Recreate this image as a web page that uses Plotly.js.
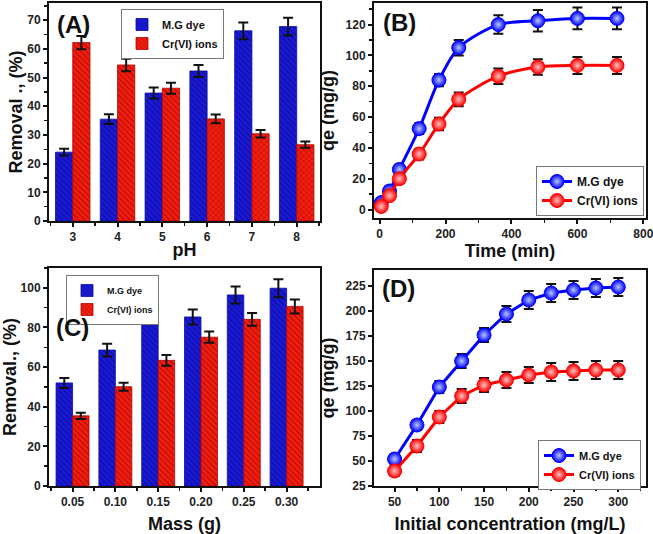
<!DOCTYPE html>
<html>
<head>
<meta charset="utf-8">
<script src="https://cdn.plot.ly/plotly-3.0.1.min.js"></script>
<style>html,body{margin:0;padding:0;background:#fff}#chart{width:653px;height:534px}</style>
</head>
<body>
<div id="chart"></div>
<script>
// ---------- DATA ----------
const seriesNames = ["M.G dye", "Cr(VI) ions"];

// (A) effect of pH
const pH = [3, 4, 5, 6, 7, 8];
const pH_MG = [24.0, 35.5, 44.6, 52.3, 66.3, 67.8];
const pH_MG_err = [1.2, 1.7, 1.9, 2.1, 2.9, 3.1];
const pH_Cr = [62.2, 54.4, 46.3, 35.6, 30.4, 26.6];
const pH_Cr_err = [2.3, 2.2, 1.9, 1.5, 1.3, 1.1];

// (B) effect of contact time
const timeMin = [5, 30, 60, 120, 180, 240, 360, 480, 600, 720];
const time_MG = [4.5, 12, 26, 52.5, 84, 105, 120, 122.5, 124, 124];
const time_MG_err = [2, 3, 3, 3.5, 4, 5, 6, 7, 7, 7];
const time_Cr = [2, 9, 20, 36, 55.5, 71.5, 86.5, 92.5, 93.5, 93.5];
const time_Cr_err = [2, 3, 3, 3.5, 4, 4.5, 5, 5, 5.5, 5.5];

// (C) effect of adsorbent mass
const massLabels = ["0.05", "0.10", "0.15", "0.20", "0.25", "0.30"];
const mass_MG = [52.0, 68.6, 90.2, 85.3, 96.4, 99.8];
const mass_MG_err = [2.5, 3.2, 4.0, 3.8, 4.3, 4.5];
const mass_Cr = [35.4, 50.1, 63.4, 75.1, 84.1, 90.6];
const mass_Cr_err = [1.6, 2.0, 2.7, 2.8, 3.2, 3.5];

// (D) effect of initial concentration
const conc = [50, 75, 100, 125, 150, 175, 200, 225, 250, 275, 300];
const conc_MG = [52, 86, 124, 150, 176, 197, 211, 218, 221, 223, 224];
const conc_MG_err = [5, 5, 6, 7, 7, 8, 9, 9, 9, 9, 9];
const conc_Cr = [40, 65, 94, 115, 126, 131, 136, 139, 140, 141, 141];
const conc_Cr_err = [5, 6, 6, 7, 7, 8, 8, 9, 9, 9, 9];

// ---------- STYLE ----------
const W = 653, H = 534;
const FONT = "Liberation Sans, Arial, sans-serif";
const BLUE = "#1a1ad2", BLUE_FG = "#0a0aa6";
const RED = "#f0200f", RED_FG = "#b40404";
const px = v => v / W;          // pixel -> paper x
const py = v => 1 - v / H;      // pixel -> paper y

const errStyle = arr => ({type: "data", array: arr, visible: true, color: "#111", thickness: 2, width: 5});

function barTrace(x, y, err, name, color, fg, shapes, xa, ya, legend) {
  return {
    type: "bar", x: x, y: y, name: name, xaxis: xa, yaxis: ya, legend: legend,
    marker: {color: color, line: {color: fg, width: 0.8},
             pattern: {shape: shapes, fillmode: "replace", bgcolor: color, fgcolor: fg, size: 4, solidity: 0.25}},
    error_y: errStyle(err)
  };
}
function lineTrace(x, y, err, name, color, center, xa, ya, legend, shape) {
  return {
    type: "scatter", mode: "lines+markers", x: x, y: y, name: name, xaxis: xa, yaxis: ya, legend: legend,
    line: {color: color, width: 3, shape: shape, smoothing: 0.8},
    marker: {size: 14, color: color, gradient: {type: "radial", color: center}, line: {color: color, width: 1}},
    error_y: errStyle(err)
  };
}

const massIdx = massLabels.map((_, i) => i);

const traces = [
  barTrace(pH, pH_MG, pH_MG_err, seriesNames[0], BLUE, BLUE_FG, "\\", "x", "y", "legend"),
  barTrace(pH, pH_Cr, pH_Cr_err, seriesNames[1], RED, RED_FG, ["\\", "\\", "\\", "x", "x", "x"], "x", "y", "legend"),
  lineTrace(timeMin, time_MG, time_MG_err, seriesNames[0], "#0000ff", "#b8c8ff", "x2", "y2", "legend2", "spline"),
  lineTrace(timeMin, time_Cr, time_Cr_err, seriesNames[1], "#ff0000", "#ffc0c0", "x2", "y2", "legend2", "spline"),
  barTrace(massIdx, mass_MG, mass_MG_err, seriesNames[0], BLUE, BLUE_FG, "\\", "x3", "y3", "legend3"),
  barTrace(massIdx, mass_Cr, mass_Cr_err, seriesNames[1], RED, RED_FG, "\\", "x3", "y3", "legend3"),
  lineTrace(conc, conc_MG, conc_MG_err, seriesNames[0], "#0000ff", "#b8c8ff", "x4", "y4", "legend4", "linear"),
  lineTrace(conc, conc_Cr, conc_Cr_err, seriesNames[1], "#ff0000", "#ffc0c0", "x4", "y4", "legend4", "linear")
];

const tickFont = {family: FONT, size: 12, color: "#222", weight: "bold"};
const titleFont = {family: FONT, size: 18, color: "#111", weight: "bold"};
const minorStyle = d => ({dtick: d, ticklen: 3, tickwidth: 1.5, tickcolor: "#111", ticks: "outside"});

function axis(domain, range, anchor, extra) {
  return Object.assign({
    domain: domain, range: range, anchor: anchor,
    showline: true, linecolor: "#111", linewidth: 2, mirror: true,
    ticks: "outside", ticklen: 4, tickwidth: 2, tickcolor: "#111",
    showgrid: false, zeroline: false, tickfont: tickFont, fixedrange: true,
    ticklabeloverflow: "allow"
  }, extra);
}

function legendAt(x, y, size) {
  return {x: px(x), y: py(y), xanchor: "left", yanchor: "top", bgcolor: "#fff",
    bordercolor: "#777", borderwidth: 1, font: {family: FONT, size: size, color: "#111", weight: "bold"},
    tracegroupgap: 0, itemwidth: 30};
}

const layout = {
  width: W, height: H,
  margin: {l: 0, r: 0, t: 0, b: 0},
  paper_bgcolor: "#fff", plot_bgcolor: "#fff",
  barmode: "group", bargap: 0.23, bargroupgap: 0,
  showlegend: true,
  // (A)
  xaxis: axis([px(49), px(320)], [2.47, 8.52], "y", {dtick: 1, tick0: 3, minor: minorStyle(0.5),
    title: {text: "pH", font: titleFont, standoff: 0}}),
  yaxis: axis([py(221), py(3)], [0, 76], "x", {dtick: 10, minor: minorStyle(5),
    title: {text: "Removal ., (%)", font: titleFont, standoff: 0}}),
  // (B)
  xaxis2: axis([px(374), px(646)], [-17, 808], "y2", {dtick: 200, tick0: 0, minor: minorStyle(100),
    title: {text: "Time (min)", font: titleFont, standoff: 3}}),
  yaxis2: axis([py(218), py(3)], [-5.5, 134], "x2", {dtick: 20, tick0: 0, minor: minorStyle(10),
    title: {text: "qe (mg/g)", font: titleFont, standoff: 6}}),
  // (C)
  xaxis3: axis([px(49), px(320)], [-0.55, 5.78], "y3", {tickvals: massIdx, ticktext: massLabels,
    minor: Object.assign(minorStyle(0.5), {tick0: 0.5}),
    title: {text: "Mass (g)", font: titleFont, standoff: 12}}),
  yaxis3: axis([py(486), py(268)], [0, 110], "x3", {dtick: 20, minor: minorStyle(10),
    title: {text: "Removal., (%)", font: titleFont, standoff: 8}}),
  // (D)
  xaxis4: axis([px(374), px(646)], [27, 331], "y4", {dtick: 50, tick0: 0, minor: minorStyle(25),
    title: {text: "Initial concentration (mg/L)", font: titleFont, standoff: 12}}),
  yaxis4: axis([py(486), py(270)], [25, 241], "x4", {dtick: 25, tick0: 0,
    title: {text: "qe (mg/g)", font: titleFont, standoff: 6}}),
  legend: legendAt(121, 9, 11),
  legend2: legendAt(536, 166, 12),
  legend3: legendAt(66, 275, 9),
  legend4: legendAt(538, 440, 11),
  annotations: [
    {text: "(A)", x: px(73), y: py(24)},
    {text: "(B)", x: px(399), y: py(23)},
    {text: "(C)", x: px(72), y: py(328)},
    {text: "(D)", x: px(398), y: py(288)}
  ].map(a => Object.assign({xref: "paper", yref: "paper", showarrow: false, xanchor: "center", yanchor: "middle",
    font: {family: FONT, size: 24, color: "#111", weight: "bold"}}, a))
};

Plotly.newPlot("chart", traces, layout, {displayModeBar: false, staticPlot: true});
</script>
</body>
</html>
